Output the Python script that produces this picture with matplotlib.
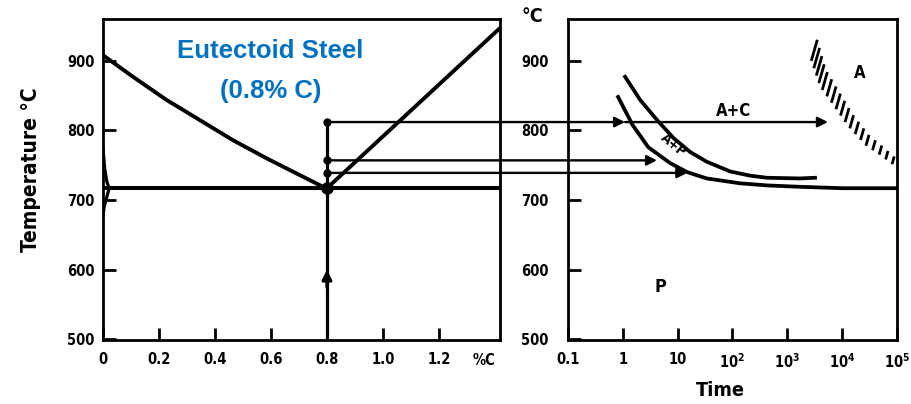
import numpy as np
import matplotlib
matplotlib.use('Agg')
import matplotlib.pyplot as plt
from matplotlib import font_manager
from matplotlib.patches import ConnectionPatch

# ---------------- data ----------------
# Fe-C diagram (left)
comp_a3 = [0.0, 0.107, 0.226, 0.345, 0.464, 0.584, 0.702, 0.786, 0.8]
temp_a3 = [908, 877, 844, 815, 786, 760, 736, 719, 717]
comp_acm = [0.8, 1.418]
temp_acm = [717, 947]
eutectoid_C = 0.8
eutectoid_T = 717
alpha_upper_C = [0.0, 0.006, 0.014, 0.022]
alpha_upper_T = [775, 745, 726, 717]
alpha_lower_C = [0.022, 0.012, 0.004, 0.0]
alpha_lower_T = [717, 702, 690, 678]
hold_T = [812, 757, 739]
left_xticks = [0, 0.2, 0.4, 0.6, 0.8, 1.0, 1.2]
left_xticklabels = ['0', '0.2', '0.4', '0.6', '0.8', '1.0', '1.2']
temp_ticks = [500, 600, 700, 800, 900]

# TTT diagram (right)
hold_arrow_t = [1.1, 4.2, 15]
ac_arrow_t = [1.1, 5500]
start_t = [0.82, 1.5, 2.9, 7.3, 15, 34, 138, 430, 1700, 1e4, 1e5]
start_T = [848, 808, 776, 753, 740, 731, 724, 721, 719, 717, 717]
finish_t = [1.1, 2.06, 4.2, 8.4, 16.9, 34, 91, 210, 425, 1700, 3200]
finish_T = [877, 844, 815, 789, 769, 755, 741, 735, 732, 731, 732]
carbide_t = [3100, 4460, 8100, 14000, 28700, 49500, 85000]
carbide_T = [915, 875, 844, 815, 786, 772, 757]
time_ticks = [0.1, 1, 10, 1e2, 1e3, 1e4, 1e5]
time_ticklabels = ['0.1', '1', '10', r'$10^2$', r'$10^3$', r'$10^4$', r'$10^5$']

# ---------------- fonts ----------------
names = {f.name for f in font_manager.fontManager.ttflist}
if 'Liberation Sans Narrow' in names:
    FAM = ['Liberation Sans Narrow', 'DejaVu Sans']
    k = 1.0
elif 'DejaVu Sans Condensed' in names:
    FAM = ['DejaVu Sans Condensed', 'DejaVu Sans']
    k = 0.8
else:
    FAM = ['DejaVu Sans']
    k = 0.75
plt.rcParams['font.family'] = FAM
plt.rcParams['font.stretch'] = 'condensed'
plt.rcParams['font.weight'] = 'bold'
plt.rcParams['mathtext.fontset'] = 'custom'
plt.rcParams['mathtext.rm'] = FAM[0] + ':bold'
plt.rcParams['mathtext.it'] = FAM[0] + ':bold'
plt.rcParams['mathtext.bf'] = FAM[0] + ':bold'

W, H = 912, 404
fig = plt.figure(figsize=(W / 100, H / 100), dpi=100)
fig.patch.set_facecolor('white')

def box(l, t, r, b):
    return [l / W, 1 - b / H, (r - l) / W, (b - t) / H]

ax1 = fig.add_axes(box(103, 19, 500, 340))
ax2 = fig.add_axes(box(568, 19, 897, 340))

YLIM = (499, 960)
LW = 2.3
for ax in (ax1, ax2):
    ax.set_ylim(*YLIM)
    for s in ax.spines.values():
        s.set_linewidth(2.0)
    ax.tick_params(direction='in', length=9, width=2, labelsize=14 * k)
    ax.set_yticks(temp_ticks)
    ax.set_yticklabels([str(v) for v in temp_ticks])

# ----- left panel -----
ax1.set_xlim(0, 1.418)
ax1.set_xticks(left_xticks)
ax1.set_xticklabels(left_xticklabels)
ax1.tick_params(axis='x', pad=9)
ax1.tick_params(axis='y', pad=6)
ax1.plot(comp_a3, temp_a3, color='k', lw=LW + 0.5, solid_capstyle='round')
ax1.plot(comp_acm, temp_acm, color='k', lw=LW + 0.5, solid_capstyle='round')
ax1.axhline(eutectoid_T, color='k', lw=LW + 0.6)
ax1.plot(alpha_upper_C, alpha_upper_T, color='k', lw=LW)
ax1.plot(alpha_lower_C, alpha_lower_T, color='k', lw=LW)
ax1.plot([eutectoid_C, eutectoid_C], [YLIM[0], hold_T[0]], color='k', lw=LW)
ax1.plot([eutectoid_C] * len(hold_T), hold_T, 'o', color='k', ms=5)
ax1.plot([eutectoid_C], [eutectoid_T], 'o', color='k', ms=8)
ax1.annotate('', xy=(eutectoid_C, 600), xytext=(eutectoid_C, 575),
             arrowprops=dict(arrowstyle='-|>', color='k', lw=LW,
                             mutation_scale=14, shrinkA=0, shrinkB=0))
ax1.set_ylabel('Temperature °C', fontsize=20 * k, fontweight='bold')
ax1.yaxis.set_label_coords(-0.155, 0.53)
ax1.text(1.36, -0.065, '%C', transform=ax1.get_xaxis_transform(),
         ha='center', va='center', fontsize=14 * k, fontweight='bold')

fig.text(270 / W, 1 - 58 / H, 'Eutectoid Steel', color='#0070C0',
         family=['Liberation Sans', 'DejaVu Sans'], fontsize=18.5,
         fontweight='bold', fontstretch='normal', ha='center', va='baseline')
fig.text(271 / W, 1 - 98 / H, '(0.8% C)', color='#0070C0',
         family=['Liberation Sans', 'DejaVu Sans'], fontsize=18.5,
         fontweight='bold', fontstretch='normal', ha='center', va='baseline')

# ----- right panel -----
ax2.set_xscale('log')
ax2.set_xlim(0.1, 1e5)
ax2.set_xticks(time_ticks)
ax2.set_xticklabels(time_ticklabels)
ax2.minorticks_off()
ax2.tick_params(axis='x', pad=9)
ax2.tick_params(axis='y', pad=14)
ax2.plot(start_t, start_T, color='k', lw=LW + 0.4)
ax2.plot(finish_t, finish_T, color='k', lw=LW + 0.4)

# hatched (carbide dissolution) boundary: short strokes along the curve
disp = ax2.transData.transform(np.column_stack([carbide_t, carbide_T]))
seg = np.hypot(np.diff(disp[:, 0]), np.diff(disp[:, 1]))
s = np.concatenate([[0], np.cumsum(seg)])
n = int(s[-1] // 8)
ss = np.linspace(0, s[-1], n + 1)
px = np.interp(ss, s, disp[:, 0])
py = np.interp(ss, s, disp[:, 1])
L = np.interp(ss, [0, s[-1]], [22, 8])
ang = np.deg2rad(74)
inv = ax2.transData.inverted()
for x0, y0, l in zip(px, py, L):
    pts = np.array([[x0 - l / 2 * np.cos(ang), y0 - l / 2 * np.sin(ang)],
                    [x0 + l / 2 * np.cos(ang), y0 + l / 2 * np.sin(ang)]])
    d = inv.transform(pts)
    ax2.plot(d[:, 0], d[:, 1], color='k', lw=2.0, solid_capstyle='butt')

# arrows from left panel into right panel
for T, t in zip(hold_T, hold_arrow_t):
    con = ConnectionPatch(xyA=(eutectoid_C, T), coordsA=ax1.transData,
                          xyB=(t, T), coordsB=ax2.transData,
                          arrowstyle='-|>', mutation_scale=15, lw=1.7,
                          color='k', shrinkA=0, shrinkB=0)
    fig.add_artist(con)
ax2.annotate('', xy=(ac_arrow_t[1], hold_T[0]), xytext=(ac_arrow_t[0], hold_T[0]),
             arrowprops=dict(arrowstyle='-|>', color='k', lw=1.7,
                             mutation_scale=15, shrinkA=0, shrinkB=0))

ax2.text(103, 828, 'A+C', fontsize=16 * k, fontweight='bold', ha='center', va='center')
ax2.text(8.2, 779, 'A+P', fontsize=13 * k, fontweight='bold', ha='center',
         va='center', rotation=-40)
ax2.text(21000, 882, 'A', fontsize=16 * k, fontweight='bold', ha='center', va='center')
ax2.text(4.8, 575, 'P', fontsize=17 * k, fontweight='bold', ha='center', va='center')
fig.text(532 / W, 1 - 16 / H, '°C', fontsize=19 * k, fontweight='bold',
         ha='center', va='center')
fig.text(720 / W, 1 - 391 / H, 'Time', fontsize=19 * k, fontweight='bold',
         ha='center', va='center')

fig.savefig('out.png', dpi=100, facecolor='white')
